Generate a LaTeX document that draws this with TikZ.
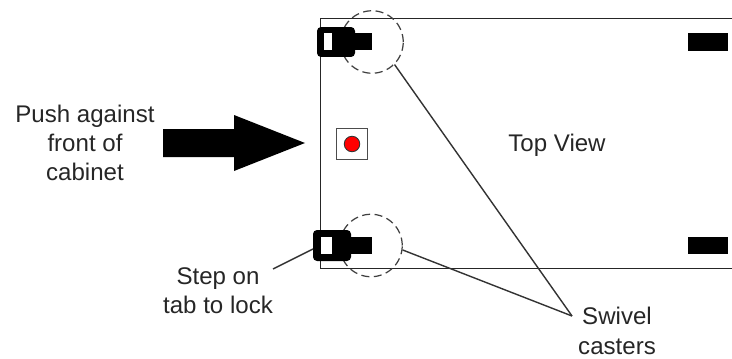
\documentclass[tikz,border=0pt]{standalone}
\usepackage{fontspec}
\setmainfont{Liberation Sans}
\tikzset{>=latex, label/.style = {align=center, text=black!85, font=\fontsize{13.7}{16.7}\selectfont},
	tabbox/.style = {fill=black, rounded corners=0.08cm, inner sep=0, outer sep=0},
	wheel/.style = {fill=black, inner sep=0, outer sep=0, minimum width=0.8cm, minimum height=0.35cm},
	window/.style = {fill=white, inner sep=0, outer sep=0},
	ring/.style = {draw=black!75, dash pattern=on 0.16cm off 0.09cm, circle, line width=0.7pt, inner sep=0, minimum size=1.25cm},
	leader/.style = {draw=black!80, line width=0.8pt}}

\begin{document}
\begin{tikzpicture}[x=0.02cm,y=-0.02cm]
    \useasboundingbox (0,0) rectangle (732,358);
    % cabinet outline, open on the right
    \draw[line width=0.9pt,black!85] (732,18.5) -- (320.5,18.5) -- (320.5,268.5) -- (732,268.5);
    % push arrow
    \fill (163,129) -- (234,129) -- (234,115) -- (305,143) -- (234,171) -- (234,157) -- (163,157) -- cycle;
    % brake pedal
    \node[draw=black!70, line width=0.8pt, minimum width=0.62cm, minimum height=0.62cm, inner sep=0] (pedal) at (352,144) {};
    \node[draw=black!80, fill=red, circle, line width=0.5pt, minimum size=0.31cm, inner sep=0] (pedaldot) at (352,144) {};
    % casters
    \node[ring] (topring) at (372,42) {};
    \node[ring] (botring) at (371,245.5) {};
    \node[tabbox, minimum width=0.76cm, minimum height=0.6cm] (toptab) at (336,42) {};
    \node[window, minimum width=0.16cm, minimum height=0.34cm] (topwindow) at (328,41.5) {};
    \node[wheel, minimum width=0.8cm] (topstem) at (352,41.5) {};
    \node[tabbox, minimum width=0.76cm, minimum height=0.62cm] (bottab) at (332,245.5) {};
    \node[window, minimum width=0.22cm, minimum height=0.34cm] (botwindow) at (326.5,245.5) {};
    \node[wheel, minimum width=0.8cm] (botstem) at (352,245.5) {};
    \node[wheel] (topwheel) at (708,42) {};
    \node[wheel] (botwheel) at (708,245.5) {};
    % labels
    \node[label] (pushlabel) at (85,143) {Push against\\front of\\cabinet};
    \node[label] (viewlabel) at (557,145) {Top View};
    \node[label] (steplabel) at (218,291) {Step on\\tab to lock};
    \node[label] (swivellabel) at (617,331) {Swivel\\casters};
    % leaders
    \coordinate (swivelend) at (572,316);
    \draw[leader] (topring.-45) -- (swivelend);
    \draw[leader] (botring.-8) -- (swivelend);
    \coordinate (stepend) at (273,269);
    \draw[leader] (bottab.west |- 0,249) -- (stepend);
\end{tikzpicture}
\end{document}
